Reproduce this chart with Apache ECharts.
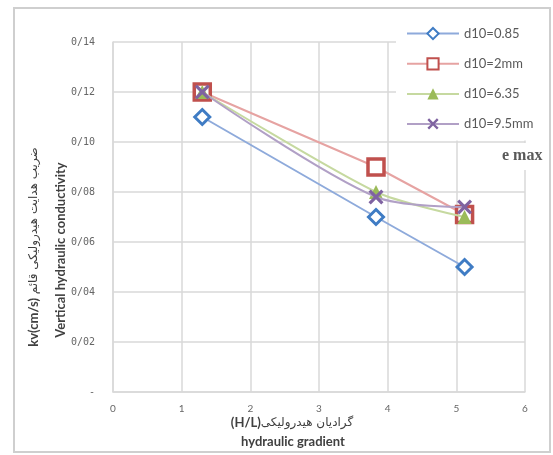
<!DOCTYPE html>
<html>
<head>
<meta charset="utf-8">
<script src="https://cdn.jsdelivr.net/npm/echarts@6/dist/echarts.min.js"></script>
<style>
html,body{margin:0;padding:0;background:#fff;}
#c{width:553px;height:455px;}
</style>
</head>
<body>
<div id="c"></div>
<script>
// ---- data ----
const seriesNames = ['d10=0.85', 'd10=2mm', 'd10=6.35', 'd10=9.5mm'];
const gradient = [1.3, 3.83, 5.12];
const kvD085 = [0.110, 0.070, 0.050];
const kvD2 = [0.120, 0.090, 0.071];
const kvD635 = [0.120, 0.080, 0.070];
const kvD95 = [0.120, 0.078, 0.074];
const yTickLabels = ['-', '0/02', '0/04', '0/06', '0/08', '0/10', '0/12', '0/14'];
const xTickLabels = ['0', '1', '2', '3', '4', '5', '6'];

const pair = (vals) => gradient.map((g, i) => [g, vals[i]]);
const crossPath = 'path://M0,3 L3,0 L10,7 L17,0 L20,3 L13,10 L20,17 L17,20 L10,13 L3,20 L0,17 L7,10 Z';

const chart = echarts.init(document.getElementById('c'));
chart.setOption({
  animation: false,
  backgroundColor: '#fff',
  grid: { left: 113, right: 28, top: 42, bottom: 63 },
  xAxis: {
    type: 'value', min: 0, max: 6, interval: 1,
    axisLine: { show: true, lineStyle: { color: '#d9d9d9', width: 1.5 } },
    axisTick: { show: false },
    splitLine: { show: true, lineStyle: { color: '#d9d9d9', width: 1.5 } },
    axisLabel: {
      margin: 12, color: '#666666', fontSize: 10, fontFamily: 'Lato',
      formatter: (v) => xTickLabels[Math.round(v)]
    }
  },
  yAxis: {
    type: 'value', min: 0, max: 0.14, interval: 0.02,
    axisLine: { show: true, lineStyle: { color: '#d9d9d9', width: 1.5 } },
    axisTick: { show: false },
    splitLine: { show: true, lineStyle: { color: '#d9d9d9', width: 1.5 } },
    axisLabel: {
      margin: 18, color: '#666666', fontSize: 10, fontFamily: 'DejaVu Sans Mono',
      formatter: (v) => yTickLabels[Math.round(v / 0.02)]
    }
  },
  legend: {
    orient: 'vertical', left: 396, top: 20,
    padding: [7, 10, 10, 10],
    backgroundColor: '#fff',
    itemWidth: 52, itemHeight: 14, itemGap: 17,
    textStyle: { color: '#595959', fontSize: 13, fontFamily: 'Lato' },
    data: seriesNames,
    z: 10
  },
  series: [
    {
      name: seriesNames[0], type: 'line', data: pair(kvD085),
      symbol: 'diamond', symbolSize: 15,
      lineStyle: { color: '#8eaadb', width: 2 },
      itemStyle: { color: '#fff', borderColor: '#3f7cc4', borderWidth: 3 },
      z: 3
    },
    {
      name: seriesNames[1], type: 'line', data: pair(kvD2),
      symbol: 'rect', symbolSize: 16,
      lineStyle: { color: '#e6a3a2', width: 2 },
      itemStyle: { color: '#fff', borderColor: '#c0504d', borderWidth: 3.5 },
      z: 3
    },
    {
      name: seriesNames[2], type: 'line', data: pair(kvD635), smooth: 0.25,
      symbol: 'triangle', symbolSize: 14,
      lineStyle: { color: '#c6d9a0', width: 2 },
      itemStyle: { color: '#9bbb59' },
      z: 4
    },
    {
      name: seriesNames[3], type: 'line', data: pair(kvD95), smooth: 0.3,
      symbol: crossPath, symbolSize: 15,
      lineStyle: { color: '#b1a0c6', width: 2 },
      itemStyle: { color: '#7f63a1' },
      z: 5
    }
  ],
  graphic: [
    {
      type: 'rect', z: 0, silent: true,
      shape: { x: 14, y: 8, width: 536, height: 444 },
      style: { fill: null, stroke: '#cfcfcf', lineWidth: 2 }
    },
    {
      type: 'text', z: 100, left: 490, top: 143,
      style: {
        text: 'e max', fill: '#595959',
        font: 'bold 16px "Liberation Serif", serif',
        backgroundColor: '#fff', padding: [5, 6, 6, 12]
      }
    },
    {
      type: 'text', z: 100, x: 34, y: 247, rotation: Math.PI / 2,
      style: {
        text: '{b|kv(cm/s)}{p| ضریب هدایت هیدرولیکی قائم}',
        align: 'center', verticalAlign: 'middle',
        rich: {
          b: { font: 'bold 13px Lato, "DejaVu Sans"', fill: '#404040' },
          p: { font: '12px "DejaVu Sans"', fill: '#404040' }
        }
      }
    },
    {
      type: 'text', z: 100, x: 61, y: 250, rotation: Math.PI / 2,
      style: {
        text: 'Vertical hydraulic conductivity',
        align: 'center', verticalAlign: 'middle',
        font: 'bold 13px Lato', fill: '#404040'
      }
    },
    {
      type: 'text', z: 100, x: 292, y: 423,
      style: {
        text: '{b|(H/L)}{p|گرادیان هیدرولیکی}',
        align: 'center', verticalAlign: 'middle',
        rich: {
          b: { font: 'bold 13px Lato', fill: '#404040' },
          p: { font: '12px "DejaVu Sans"', fill: '#404040' }
        }
      }
    },
    {
      type: 'text', z: 100, x: 293, y: 442,
      style: {
        text: 'hydraulic gradient',
        align: 'center', verticalAlign: 'middle',
        font: 'bold 13px Lato', fill: '#404040'
      }
    }
  ]
});
</script>
</body>
</html>
